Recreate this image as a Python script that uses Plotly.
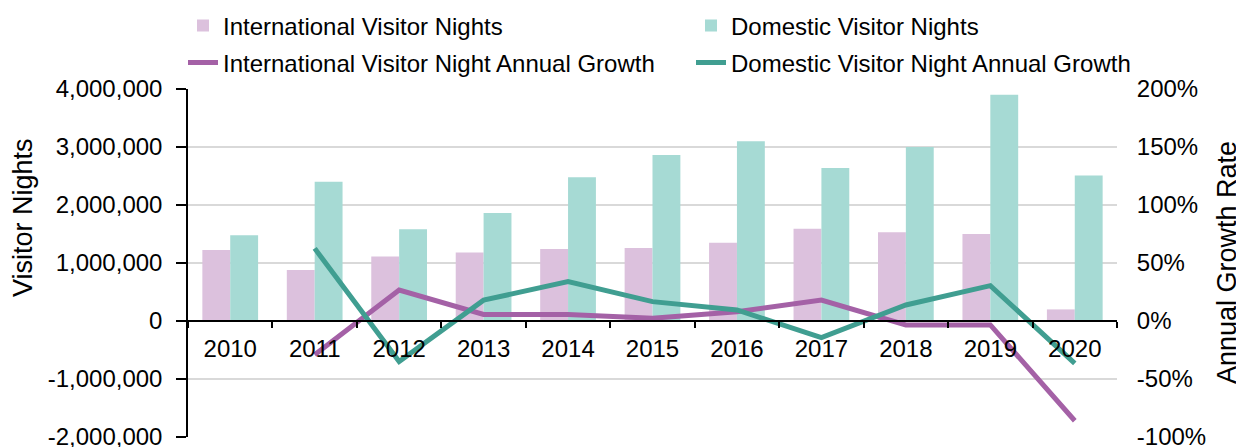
import plotly.graph_objects as go

years = ["2010", "2011", "2012", "2013", "2014", "2015", "2016", "2017", "2018", "2019", "2020"]
intl_nights = [1225000, 880000, 1110000, 1180000, 1240000, 1260000, 1350000, 1590000, 1530000, 1500000, 200000]
dom_nights = [1480000, 2400000, 1580000, 1860000, 2480000, 2860000, 3100000, 2640000, 3000000, 3900000, 2510000]
growth_years = ["2011", "2012", "2013", "2014", "2015", "2016", "2017", "2018", "2019", "2020"]
intl_growth = [-0.29, 0.267, 0.057, 0.057, 0.023, 0.08, 0.18, -0.034, -0.034, -0.86]
dom_growth = [0.626, -0.35, 0.18, 0.34, 0.167, 0.095, -0.144, 0.138, 0.305, -0.365]

left_tickvals = [-2000000, -1000000, 0, 1000000, 2000000, 3000000, 4000000]
left_ticktext = ["-2,000,000", "-1,000,000", "0", "1,000,000", "2,000,000", "3,000,000", "4,000,000"]
right_tickvals = [-1.0, -0.5, 0.0, 0.5, 1.0, 1.5, 2.0]
right_ticktext = ["-100%", "-50%", "0%", "50%", "100%", "150%", "200%"]
left_title = "Visitor Nights"
right_title = "Annual Growth Rate"

FONT = "Arial, Liberation Sans, sans-serif"
TICK_SIZE = 24
TITLE_SIZE = 27
C_INTL_BAR = "#DCC1DD"
C_DOM_BAR = "#A6DAD4"
C_INTL_LINE = "#A461A6"
C_DOM_LINE = "#409E91"

# figure geometry (page body adds an 8px offset)
W, H = 1244, 447
PL, PR, PT, PB = 180, 1109, 81, 429
PW, PH = PR - PL, PB - PT

fig = go.Figure()
fig.add_trace(go.Bar(x=years, y=intl_nights, name="International Visitor Nights",
                     marker=dict(color=C_INTL_BAR, line=dict(width=0)), legend="legend"))
fig.add_trace(go.Bar(x=years, y=dom_nights, name="Domestic Visitor Nights",
                     marker=dict(color=C_DOM_BAR, line=dict(width=0)), legend="legend"))
fig.add_trace(go.Scatter(x=growth_years, y=intl_growth, name="International Visitor Night Annual Growth",
                         mode="lines", line=dict(color=C_INTL_LINE, width=5), yaxis="y2", legend="legend2"))
fig.add_trace(go.Scatter(x=growth_years, y=dom_growth, name="Domestic Visitor Night Annual Growth",
                         mode="lines", line=dict(color=C_DOM_LINE, width=5), yaxis="y2", legend="legend2"))

legend_common = dict(orientation="h", xanchor="left", yanchor="middle",
                     font=dict(family=FONT, size=TICK_SIZE, color="#000000"),
                     bgcolor="rgba(0,0,0,0)", entrywidth=463, entrywidthmode="pixels")

def px_x(x):
    return (x - PL) / PW

def px_y(y):
    return (PB - y) / PH

fig.update_layout(
    width=W, height=H,
    margin=dict(l=PL, r=W - PR, t=PT, b=H - PB, autoexpand=False),
    paper_bgcolor="white", plot_bgcolor="white",
    font=dict(family=FONT, size=TICK_SIZE, color="#000000"),
    barmode="group", bargap=0.34, bargroupgap=0,
    showlegend=True,
    legend=dict(x=px_x(175), y=px_y(18), **legend_common),
    legend2=dict(x=px_x(175), y=px_y(55), **legend_common),
    xaxis=dict(
        type="category", anchor="free", position=1/3, automargin=False,
        showline=True, linecolor="#000000", linewidth=1.5,
        ticks="outside", tickson="boundaries", ticklen=6, tickcolor="#000000", tickwidth=1.5,
        ticklabelstandoff=6,
        showgrid=False, zeroline=False,
        tickfont=dict(family=FONT, size=TICK_SIZE, color="#000000"),
    ),
    yaxis=dict(
        range=[-2000000, 4000000], tickvals=left_tickvals, ticktext=left_ticktext,
        automargin=False,
        showline=True, linecolor="#000000", linewidth=1.5,
        ticks="outside", ticklen=10, tickcolor="#000000", tickwidth=1.5,
        ticklabelstandoff=9,
        showgrid=True, gridcolor="#D9D9D9", gridwidth=1.5, zeroline=False,
        tickfont=dict(family=FONT, size=TICK_SIZE, color="#000000"),
    ),
    yaxis2=dict(
        overlaying="y", side="right", range=[-1.0, 2.0],
        tickvals=right_tickvals, ticktext=right_ticktext, automargin=False,
        showline=False, ticks="outside", ticklen=14, tickcolor="rgba(0,0,0,0)",
        showgrid=False, zeroline=False,
        tickfont=dict(family=FONT, size=TICK_SIZE, color="#000000"),
    ),
    annotations=[
        dict(text=left_title, textangle=-90, xref="paper", yref="paper",
             x=px_x(15), y=px_y(210), xanchor="center", yanchor="middle", showarrow=False,
             font=dict(family=FONT, size=TITLE_SIZE, color="#000000")),
        dict(text=right_title, textangle=-90, xref="paper", yref="paper",
             x=px_x(1219), y=px_y(255), xanchor="center", yanchor="middle", showarrow=False,
             font=dict(family=FONT, size=TITLE_SIZE, color="#000000")),
    ],
)

fig.write_html("out.html")
